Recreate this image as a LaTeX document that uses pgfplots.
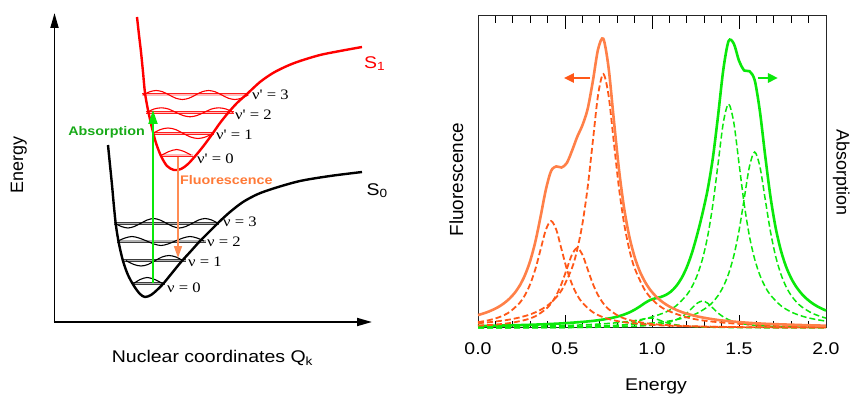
\documentclass[border=0pt]{standalone}
\usepackage{fontspec}
\setmainfont{Liberation Sans}
\newfontfamily\tnr{Liberation Serif}
\usepackage{pgfplots}
\pgfplotsset{compat=1.18}
\usetikzlibrary{arrows.meta}

\definecolor{flsolid}{RGB}{255,128,72}
\definecolor{fldash}{RGB}{255,88,24}
\definecolor{absgreen}{RGB}{10,232,10}
\definecolor{labgreen}{RGB}{24,170,24}
\definecolor{labor}{RGB}{255,122,56}
\definecolor{farrow}{RGB}{255,140,84}
\definecolor{lvlgray}{RGB}{60,60,60}
\definecolor{lvlred}{RGB}{255,30,30}

\newcommand\fs[1]{\fontsize{#1}{#1}\selectfont}
\newcommand\vib[1]{{\tnr\fs{14.5}ν = #1}}
\newcommand\vibp[1]{{\tnr\fs{14.5}ν\textquotesingle\ = #1}}

\begin{document}
\begin{tikzpicture}[x=1bp,y=1bp,hs/.style={xscale=1.15}]
\useasboundingbox (0bp,0bp) rectangle (854bp,394bp);

% ---------------- potential energy curves ----------------
\begin{axis}[at={(0bp,0bp)}, anchor=south west, scale only axis,
  width=854bp, height=394bp, xmin=0, xmax=854, ymin=0, ymax=394,
  y dir=reverse, hide axis, clip=false]

% coordinate axes
\addplot[black, line width=1.8bp, -{Triangle[length=15bp,width=8bp]}]
  coordinates {(54.5,322.8) (54.5,13)};
\addplot[black, line width=1.8bp, -{Triangle[length=15bp,width=8bp]}]
  coordinates {(53.6,322) (372,322)};

% vibrational levels of S0
\addplot[lvlgray, line width=0.9bp, double=lvlgray!40, double distance=1.2bp] coordinates {(132,283.3) (165,283.3)};
\addplot[lvlgray, line width=0.9bp, double=lvlgray!40, double distance=1.2bp] coordinates {(124,260.7) (186,260.7)};
\addplot[lvlgray, line width=0.9bp, double=lvlgray!40, double distance=1.2bp] coordinates {(117,241) (206,241)};
\addplot[lvlgray, line width=0.9bp, double=lvlgray!40, double distance=1.2bp] coordinates {(114,223.3) (219,223.3)};

% vibrational wavefunctions of S0
\addplot[black, line width=1.1bp, smooth] coordinates {(134,283.3) (140,279.6) (147,277.5) (155,279.6) (162,283.3)};
\addplot[black, line width=1.1bp, smooth] coordinates {(126,260.7) (134,264.5) (141,266) (148,264.5) (155,260.7) (162,257) (169,255.5) (176,257) (183,260.7)};
\addplot[black, line width=1.1bp, smooth] coordinates {(118,241) (125,238) (132,236.5) (139,238) (146.7,241) (154,244) (161,245.5) (168,244) (175.3,241) (183,238) (190,236.5) (197,238) (204,241)};
\addplot[black, line width=1.1bp, smooth] coordinates {(115,223.3) (121.4,226.5) (128,228) (134.3,226.5) (140.8,223.3) (147.2,220) (153.6,218.5) (160,220) (166.5,223.3) (173,226.5) (179.4,228) (185.8,226.5) (192.3,223.3) (198.7,220) (205,218.5) (211.6,220) (218,223.3)};

% vibrational levels of S1
\addplot[lvlred, line width=0.9bp, double=lvlred!30, double distance=1.2bp] coordinates {(161,155) (193,155)};
\addplot[lvlred, line width=0.9bp, double=lvlred!30, double distance=1.2bp] coordinates {(152,133.3) (214,133.3)};
\addplot[lvlred, line width=0.9bp, double=lvlred!30, double distance=1.2bp] coordinates {(146,112.3) (234,112.3)};
\addplot[lvlred, line width=0.9bp, double=lvlred!30, double distance=1.2bp] coordinates {(142,95) (249,95)};

% vibrational wavefunctions of S1
\addplot[red, line width=1.1bp, smooth] coordinates {(162,155) (169,151.5) (176.7,149.5) (184,151.5) (191,155)};
\addplot[red, line width=1.1bp, smooth] coordinates {(153,133.3) (160.5,129.5) (168,128) (175.5,129.5) (183,133.3) (190.5,137) (198,138.5) (205.5,137) (213,133.3)};
\addplot[red, line width=1.1bp, smooth] coordinates {(147,112.3) (154,109) (161.3,107.8) (168.5,109) (175.7,112.3) (183,115.5) (190,116.8) (197,115.5) (204.3,112.3) (211.5,109) (218.7,107.8) (226,109) (233,112.3)};
\addplot[red, line width=1.1bp, smooth] coordinates {(143,95) (149.6,91.8) (156.1,90.5) (162.7,91.8) (169.3,95) (175.8,98.2) (182.4,99.5) (189,98.2) (195.5,95) (202,91.8) (208.6,90.5) (215.2,91.8) (221.8,95) (228.3,98.2) (234.9,99.5) (241.4,98.2) (248,95)};

% ground state S0
\addplot[black, line width=2.4bp, smooth] coordinates {
  (108,145) (110,165) (112,185) (114,207) (116,226) (119,244) (123,261)
  (128,275) (134,286) (140,294) (145,297) (151,295) (157,290) (163,284)
  (172,273) (181,262) (191,251) (200,241) (210,231) (219,222) (230,212)
  (243,202) (258,194) (275,188) (300,181) (330,176) (362,172)};

% excited state S1
\addplot[red, line width=2.4bp, smooth] coordinates {
  (137,17) (139,35) (141,52) (143,72) (145,93) (148,110) (152,128)
  (156,143) (161,156) (167,166) (174,170) (181,169) (188,164) (197,154)
  (205,144) (213,133) (220,123) (228,113) (237,103) (247,94) (260,82)
  (273,73) (287,66) (300,61) (320,55) (340,51) (362,47)};

% transitions
\addplot[absgreen, line width=2bp, -{Triangle[length=14bp,width=9bp]}]
  coordinates {(153,283) (153,110)};
\addplot[farrow, line width=1.6bp, -{Triangle[length=12bp,width=8bp]}]
  coordinates {(178,157) (178,258)};

% labels
\node[hs, anchor=base east, font=\bfseries\fs{12.5}, text=labgreen, inner sep=0pt] at (axis cs:145,135) {Absorption};
\node[hs, anchor=base west, font=\bfseries\fs{12.5}, text=labor, inner sep=0pt] at (axis cs:180,184.3) {Fluorescence};

\node[hs, anchor=base west, inner sep=0pt] at (axis cs:252,99.5) {\vibp{3}};
\node[hs, anchor=base west, inner sep=0pt] at (axis cs:235,120) {\vibp{2}};
\node[hs, anchor=base west, inner sep=0pt] at (axis cs:216,139) {\vibp{1}};
\node[hs, anchor=base west, inner sep=0pt] at (axis cs:197,163) {\vibp{0}};
\node[hs, anchor=base west, inner sep=0pt] at (axis cs:223,226) {\vib{3}};
\node[hs, anchor=base west, inner sep=0pt] at (axis cs:207,246) {\vib{2}};
\node[hs, anchor=base west, inner sep=0pt] at (axis cs:188,266) {\vib{1}};
\node[hs, anchor=base west, inner sep=0pt] at (axis cs:167,292) {\vib{0}};

\node[hs, anchor=base west, inner sep=0pt, text=red, font=\fs{17}] at (axis cs:364,68.3) {S\textsubscript{1}};
\node[hs, anchor=base west, inner sep=0pt, font=\fs{17}] at (axis cs:366.5,195) {S\textsubscript{0}};

\node[rotate=90, anchor=base, inner sep=0pt, font=\fs{18}] at (axis cs:23,165) {Energy};
\node[hs, anchor=base, inner sep=0pt, font=\fs{17}] at (axis cs:212.5,362.7) {Nuclear coordinates Q\textsubscript{k}};
\end{axis}

% ---------------- spectra ----------------
\begin{axis}[at={(478bp,66bp)}, anchor=south west, scale only axis,
  width=348bp, height=312bp, xmin=0, xmax=2, ymin=0, ymax=312, clip=false,
  xtick={0,0.5,1,1.5,2}, minor x tick num=4, ytick=\empty,
  xtick pos=both, xticklabel pos=lower, tick align=inside,
  major tick length=13bp, minor tick length=7bp,
  tick style={black, line width=0.9bp},
  axis line style={line width=1bp, black!85},
  xticklabel style={font=\fs{17}, xscale=1.15, anchor=base, yshift=-27bp,
    /pgf/number format/fixed, /pgf/number format/fixed zerofill,
    /pgf/number format/precision=1, /pgf/number format/assume math mode=true}]

% absorption components
\addplot[absgreen, line width=1.5bp, dash pattern=on 6bp off 3bp, smooth] coordinates {
  (0,1.1) (0.24,1.6) (0.48,2.4) (0.66,3.6) (0.78,5.0) (0.90,7.4) (0.99,10.6)
  (1.08,16.0) (1.14,22.4) (1.20,33.1) (1.23,41.4) (1.26,52.8) (1.29,68.9)
  (1.32,91.8) (1.35,123.8) (1.38,164.7) (1.41,205.5) (1.44,224) (1.47,205.5)
  (1.50,164.7) (1.53,123.8) (1.56,91.8) (1.59,68.9) (1.62,52.8) (1.65,41.4)
  (1.68,33.1) (1.74,22.4) (1.80,16.0) (1.86,12.0) (1.92,9.3) (1.98,7.4) (2.0,6.9)};
\addplot[absgreen, line width=1.5bp, dash pattern=on 6bp off 3bp, smooth] coordinates {
  (0,0.7) (0.24,1.0) (0.48,1.4) (0.72,2.3) (0.90,3.6) (1.02,5.3) (1.11,7.3)
  (1.20,10.9) (1.26,14.8) (1.32,21.2) (1.35,26.0) (1.38,32.5) (1.41,41.5)
  (1.44,54.2) (1.47,72.1) (1.50,97.2) (1.53,129.4) (1.56,161.5) (1.59,176)
  (1.62,161.5) (1.65,129.4) (1.68,97.2) (1.71,72.1) (1.74,54.2) (1.77,41.5)
  (1.80,32.5) (1.83,26.0) (1.86,21.2) (1.92,14.8) (1.98,10.9) (2.0,9.9)};
\addplot[absgreen, line width=1.5bp, dash pattern=on 6bp off 3bp, smooth] coordinates {
  (0,0.2) (0.30,0.3) (0.60,0.6) (0.78,1.0) (0.90,1.7) (0.99,2.7) (1.05,4.0)
  (1.11,6.4) (1.14,8.3) (1.17,11.1) (1.20,14.9) (1.23,19.9) (1.26,24.8)
  (1.29,27) (1.32,24.8) (1.35,19.9) (1.38,14.9) (1.41,11.1) (1.44,8.3)
  (1.47,6.4) (1.53,4.0) (1.59,2.7) (1.68,1.7) (1.80,1.0) (2.0,0.5)};
\addplot[absgreen, line width=1.5bp, dash pattern=on 6bp off 3bp, smooth] coordinates {
  (0,0.1) (0.30,0.2) (0.54,0.5) (0.69,1.0) (0.78,1.9) (0.84,3.1) (0.87,4.1)
  (0.90,5.5) (0.93,7.4) (0.96,9.2) (0.99,10) (1.02,9.2) (1.05,7.4) (1.08,5.5)
  (1.11,4.1) (1.14,3.1) (1.20,1.9) (1.29,1.0) (1.44,0.5) (1.68,0.2) (2.0,0.1)};

% absorption spectrum
\addplot[absgreen, line width=2.6bp, smooth] coordinates {
  (0,2.0) (0.12,2.4) (0.24,2.9) (0.36,3.6) (0.48,4.6) (0.60,6.1) (0.66,7.1)
  (0.72,8.5) (0.78,10.5) (0.81,11.8) (0.84,13.5) (0.87,15.6) (0.90,18.3)
  (0.93,21.5) (0.96,25.1) (0.99,28.0) (1.02,29.7) (1.05,31.0) (1.08,33.1)
  (1.11,36.6) (1.14,42.1) (1.17,49.9) (1.20,60.8) (1.23,75.3) (1.26,93.6)
  (1.29,114.5) (1.32,138.6) (1.35,170.4) (1.38,212.8) (1.41,258.6) (1.44,286.9)
  (1.47,284.4) (1.50,267.3) (1.53,257.5) (1.56,256.8) (1.59,247.9) (1.62,216.8)
  (1.65,173.0) (1.68,132.3) (1.71,100.8) (1.74,78.0) (1.77,61.6) (1.80,49.7)
  (1.83,40.9) (1.86,34.2) (1.89,29.0) (1.92,24.9) (1.95,21.6) (1.98,19.0) (2.0,17.4)};

% fluorescence components
\addplot[fldash, line width=1.8bp, dash pattern=on 6bp off 3bp, smooth] coordinates {
  (0,4.8) (0.06,5.7) (0.12,6.9) (0.18,8.4) (0.24,10.6) (0.30,13.6) (0.36,18.2)
  (0.42,25.4) (0.48,37.6) (0.54,59.9) (0.57,78.2) (0.60,104.1) (0.63,140.3)
  (0.66,186.8) (0.69,233.0) (0.72,254) (0.75,233.0) (0.78,186.8) (0.81,140.3)
  (0.84,104.1) (0.87,78.2) (0.90,59.9) (0.96,37.6) (1.02,25.4) (1.08,18.2)
  (1.20,10.6) (1.32,6.9) (1.50,4.1) (1.68,2.7) (1.86,1.9) (2.0,1.6)};
\addplot[fldash, line width=1.8bp, dash pattern=on 6bp off 3bp, smooth] coordinates {
  (0,5.8) (0.06,7.7) (0.12,10.7) (0.18,15.8) (0.24,25.2) (0.27,32.9) (0.30,43.9)
  (0.33,59.1) (0.36,78.7) (0.39,98.2) (0.42,107) (0.45,98.2) (0.48,78.7)
  (0.51,59.1) (0.54,43.9) (0.57,32.9) (0.60,25.2) (0.66,15.8) (0.72,10.7)
  (0.78,7.7) (0.84,5.8) (0.96,3.6) (1.08,2.4) (1.20,1.7) (1.38,1.1) (1.56,0.8)
  (1.74,0.6) (2.0,0.4)};
\addplot[fldash, line width=1.8bp, dash pattern=on 6bp off 3bp, smooth] coordinates {
  (0,2.4) (0.09,3.3) (0.18,4.9) (0.27,8.0) (0.33,11.8) (0.39,18.9) (0.42,24.6)
  (0.45,32.8) (0.48,44.2) (0.51,58.8) (0.54,73.4) (0.57,80) (0.60,73.4)
  (0.63,58.8) (0.66,44.2) (0.69,32.8) (0.72,24.6) (0.75,18.9) (0.81,11.8)
  (0.87,8.0) (0.96,4.9) (1.05,3.3) (1.20,2.0) (1.38,1.2) (1.56,0.8) (1.74,0.6)
  (2.0,0.4)};

% fluorescence spectrum
\addplot[flsolid, line width=2.6bp, smooth] coordinates {
  (0,12.9) (0.03,14.5) (0.06,16.3) (0.09,18.6) (0.12,21.3) (0.15,24.8)
  (0.18,29.2) (0.21,34.9) (0.24,42.5) (0.27,52.9) (0.30,67.1) (0.33,86.6)
  (0.36,111.7) (0.39,138.4) (0.42,157.0) (0.45,161.6) (0.48,160.5) (0.51,164.9)
  (0.54,177.1) (0.57,191.1) (0.60,202.7) (0.63,218.9) (0.66,246.8) (0.69,278.7)
  (0.72,289.3) (0.75,260.9) (0.78,209.2) (0.81,158.8) (0.84,119.5) (0.87,91.2)
  (0.90,71.1) (0.93,56.6) (0.96,46.1) (0.99,38.1) (1.02,32.1) (1.05,27.3)
  (1.08,23.6) (1.11,20.5) (1.14,18.1) (1.17,16.0) (1.20,14.3) (1.26,11.6)
  (1.32,9.6) (1.38,8.0) (1.44,6.9) (1.50,5.9) (1.59,4.8) (1.68,4.0) (1.80,3.3)
  (1.89,2.8) (1.98,2.4) (2.0,2.4)};

% axis pointers
\addplot[fldash, line width=2.5bp, -{Triangle[length=10bp,width=9bp]}]
  coordinates {(0.644,250) (0.494,250)};
\addplot[absgreen, line width=2.5bp, -{Triangle[length=10bp,width=9bp]}]
  coordinates {(1.609,250) (1.724,250)};

\node[hs, anchor=base, inner sep=0pt, font=\fs{17}] at (axis cs:1.023,-62) {Energy};
\node[rotate=90, anchor=base, inner sep=0pt, font=\fs{19}] at (axis cs:-0.086,148.5) {Fluorescence};
\node[rotate=-90, anchor=base, inner sep=0pt, font=\fs{18}] at (axis cs:2.061,155.5) {Absorption};
\end{axis}
\end{tikzpicture}
\end{document}
